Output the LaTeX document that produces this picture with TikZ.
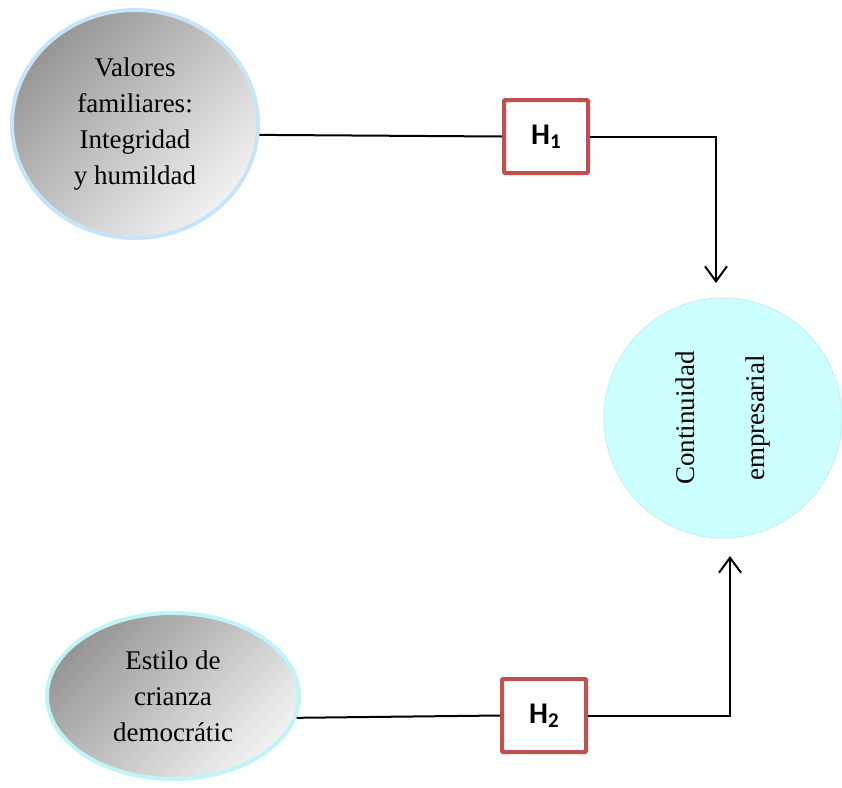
\documentclass[tikz,border=0pt]{standalone}
\usepackage{fontspec}
\setmainfont{Liberation Serif}
\newfontfamily\hfont{Carlito}
\usetikzlibrary{shapes.geometric,arrows.meta}

\definecolor{valborde}{RGB}{197,230,248}
\definecolor{estborde}{RGB}{190,245,248}
\definecolor{contfondo}{RGB}{204,255,255}
\definecolor{contborde}{RGB}{200,238,248}
\definecolor{hrojo}{RGB}{192,80,77}
\definecolor{grisoscuro}{RGB}{150,150,150}
\definecolor{grisclaro}{RGB}{242,242,242}

\tikzset{
  varelipse/.style={ellipse, line width=4pt, top color=grisoscuro, bottom color=grisclaro,
    shading angle=45, align=center, inner sep=0pt, font=\fontsize{27}{36}\selectfont},
  hipotesis/.style={rectangle, draw=hrojo, line width=4pt, rounded corners=1pt, fill=white,
    minimum width=84pt, minimum height=73pt, font=\hfont\bfseries\fontsize{30}{30}\selectfont},
  linea/.style={black, line width=2pt},
  flecha/.style={linea, -{Straight Barb[length=15pt,width=22pt,line width=2pt]}}
}

\newcommand{\hsub}[2]{#1\raisebox{-4pt}{\fontsize{21}{21}\selectfont #2}}

\begin{document}
\begin{tikzpicture}[x=1pt,y=-1pt]
  \useasboundingbox (0,0) rectangle (842,787);

  %Variables
  \node[varelipse, draw=valborde, minimum width=246pt, minimum height=228pt] (val) at (135,124)
    {Valores\\familiares:\\Integridad\\y humildad};
  \node[varelipse, draw=estborde, minimum width=252pt, minimum height=166pt] (est) at (173,696)
    {Estilo de\\crianza\\democr\'atic};
  \node[ellipse, draw=contborde, fill=contfondo, line width=1pt, rotate=90,
    minimum width=240pt, minimum height=238pt, align=center, inner sep=0pt,
    font=\fontsize{27}{70}\selectfont] (cont) at (723,418) {Continuidad\\empresarial};

  %Hipotesis
  \node[hipotesis] (h1) at (546,136.5) {\hsub{H}{1}};
  \node[hipotesis] (h2) at (544,715.5) {\hsub{H}{2}};

  \coordinate (fin1) at (716,283);
  \coordinate (fin2) at (730,556);

  %Conectores
  \draw[linea] (val.-5) -- (h1.west);
  \draw[flecha] (h1.east) -| (fin1);
  \draw[linea] (est.-10) -- (h2.west);
  \draw[flecha] (h2.east) -| (fin2);
\end{tikzpicture}
\end{document}
